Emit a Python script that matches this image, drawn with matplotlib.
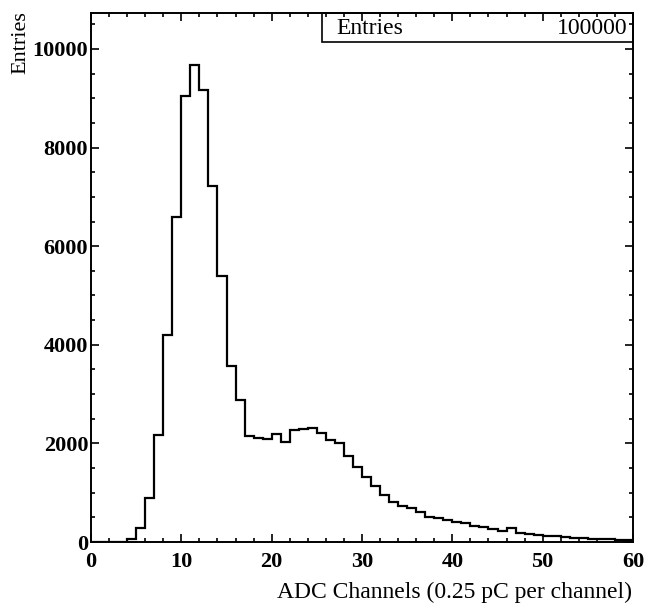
import numpy as np
import matplotlib
matplotlib.use("Agg")
import matplotlib.pyplot as plt
from matplotlib.patches import Rectangle
from matplotlib.ticker import MultipleLocator

# ADC spectrum, one bin per channel (0..60)
counts = [0, 0, 0, 0, 60, 280, 900, 2170, 4200, 6600,
          9040, 9670, 9160, 7220, 5390, 3570, 2890, 2150, 2110, 2085,
          2185, 2035, 2270, 2285, 2320, 2215, 2070, 2015, 1745, 1515,
          1325, 1135, 955, 815, 730, 685, 615, 500, 485, 445,
          410, 390, 325, 310, 255, 225, 275, 190, 160, 140,
          130, 115, 95, 85, 78, 70, 62, 58, 45, 40]
edges = np.arange(len(counts) + 1)
n_entries = 100000

plt.rcParams['font.family'] = ['Liberation Serif', 'DejaVu Serif']

fig = plt.figure(figsize=(6.45, 6.03), dpi=100)
ax = fig.add_axes([91/645, 1 - 542/603, 542/645, 529/603])

ax.stairs(counts, edges, color='black', linewidth=1.6)

ax.set_xlim(0, 60)
ax.set_ylim(0, 10730)
ax.xaxis.set_major_locator(MultipleLocator(10))
ax.xaxis.set_minor_locator(MultipleLocator(2))
ax.yaxis.set_major_locator(MultipleLocator(2000))
ax.yaxis.set_minor_locator(MultipleLocator(500))
ax.tick_params(which='both', direction='in', top=True, right=True, width=1.2)
ax.tick_params(which='major', length=6)
ax.tick_params(which='minor', length=3)
ax.tick_params(axis='x', which='major', pad=7, labelsize=16)
ax.tick_params(axis='y', which='major', pad=2, labelsize=16)
for lab in ax.get_xticklabels() + ax.get_yticklabels():
    lab.set_fontweight('bold')
for s in ax.spines.values():
    s.set_linewidth(1.4)

# stats box
ax.add_patch(Rectangle((0.4256, 0.945), 1 - 0.4256, 0.055, transform=ax.transAxes,
                       fill=False, edgecolor='black', linewidth=1.2, clip_on=False))
ax.text(0.453, 0.9716, 'Entries', transform=ax.transAxes, ha='left', va='center', fontsize=17)
ax.text(0.990, 0.9716, str(n_entries), transform=ax.transAxes, ha='right', va='center', fontsize=17)

fig.text(0.032, 0.982, 'Entries', rotation=90, ha='center', va='top', fontsize=16)
fig.text(632/645, 1 - 592/603, 'ADC Channels (0.25 pC per channel)', ha='right', va='center',
         fontsize=17)

fig.savefig('out.png', dpi=100)
